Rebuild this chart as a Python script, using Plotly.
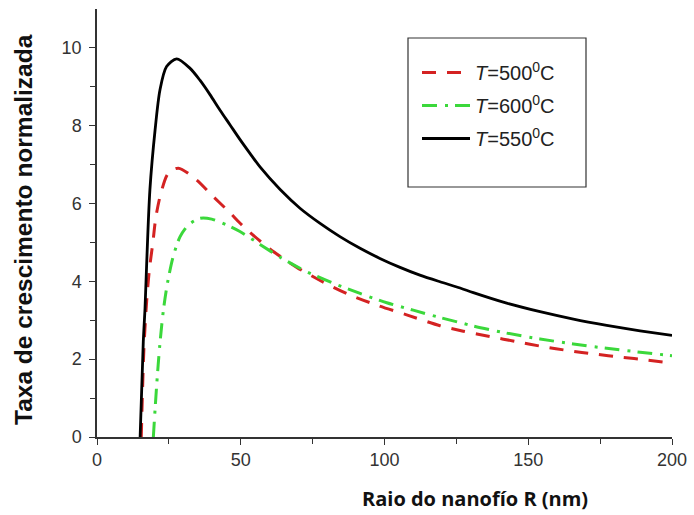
import plotly.graph_objects as go

# Black: T=550 C
x550 = [15.0, 16.1, 16.7, 17.3, 18.4, 20.2, 21.9, 24.2, 27.7, 32.3, 35.8, 39.3, 42.8, 46.3, 49.7, 53.2, 56.7,
        63.7, 70.6, 77.6, 84.5, 91.5, 98.4, 105.4, 112.3, 119.3, 126.3, 130.9, 142.5, 154.1,
        165.7, 177.3, 188.9, 200.0]
y550 = [0.0, 2.45, 3.30, 4.50, 6.35, 7.89, 8.92, 9.52, 9.72, 9.48, 9.17, 8.80, 8.40, 8.02, 7.65, 7.29, 6.94,
        6.36, 5.88, 5.49, 5.15, 4.85, 4.59, 4.36, 4.16, 3.99, 3.83, 3.71, 3.44, 3.22,
        3.03, 2.87, 2.73, 2.61]

# Red: T=500 C
x500 = [15.4, 16.3, 17.3, 18.2, 19.4, 20.5, 22.2, 24.8, 28.3, 34.6, 40.4, 46.3, 49.7, 53.2, 60.0, 69.5,
        78.7, 88.0, 97.3, 107.7, 119.3, 127.4, 136.7, 146.0, 155.3, 164.0, 173.2, 182.5, 191.2, 200.0]
y500 = [0.0, 2.24, 3.52, 4.29, 4.98, 5.66, 6.26, 6.78, 6.91, 6.61, 6.18, 5.76, 5.50, 5.26, 4.84, 4.36,
        3.98, 3.65, 3.39, 3.14, 2.86, 2.72, 2.58, 2.45, 2.32, 2.22, 2.13, 2.05, 1.98, 1.90]

# Green: T=600 C
x600 = [19.6, 20.8, 21.9, 23.1, 24.5, 26.5, 28.9, 31.8, 35.8, 39.9, 45.1, 49.7, 53.2, 56.7, 63.7,
        69.5, 72.9, 82.2, 91.5, 100.8, 110.0, 119.3, 126.3, 130.9, 142.5, 154.1, 165.7, 177.3,
        188.9, 200.0]
y600 = [0.0, 1.38, 2.41, 3.26, 3.95, 4.64, 5.15, 5.45, 5.62, 5.60, 5.45, 5.28, 5.12, 4.95, 4.62,
        4.38, 4.25, 3.95, 3.69, 3.45, 3.26, 3.07, 2.94, 2.85, 2.67, 2.52, 2.39, 2.28,
        2.18, 2.09]

names = ["<i>T</i>=500<sup>0</sup>C", "<i>T</i>=600<sup>0</sup>C", "<i>T</i>=550<sup>0</sup>C"]
x_ticks = [0, 50, 100, 150, 200]
y_ticks = [0, 2, 4, 6, 8, 10]

fig = go.Figure()
fig.add_trace(go.Scatter(x=x500, y=y500, mode="lines", name=names[0], legendgroup="a",
                         line=dict(color="#d42222", width=3, dash="14px,11px", shape="spline", smoothing=0.8)))
fig.add_trace(go.Scatter(x=x600, y=y600, mode="lines", name=names[1], legendgroup="b",
                         line=dict(color="#3bd83b", width=3, dash="15px,8px,3px,7px", shape="spline", smoothing=0.8)))
fig.add_trace(go.Scatter(x=x550, y=y550, mode="lines", name=names[2], legendgroup="c",
                         line=dict(color="black", width=2.8, shape="spline", smoothing=0.8)))

L, R, T, B = 97, 22, 9, 78
W, H = 694, 515
pw, ph = W - L - R, H - T - B

def px2paper_x(px):
    return (px - L) / pw

def py2paper_y(py):
    return (H - B - py) / ph

axis_font = dict(family="Liberation Sans, Arial", size=18, color="#333")
fig.update_layout(
    width=W, height=H, margin=dict(l=L, r=R, t=T, b=B, autoexpand=False),
    paper_bgcolor="white", plot_bgcolor="white",
    showlegend=True,
    legend=dict(x=px2paper_x(417), y=py2paper_y(53), xanchor="left", yanchor="top",
                bgcolor="rgba(0,0,0,0)", borderwidth=0,
                font=dict(family="Liberation Sans, Arial", size=20, color="#222"),
                tracegroupgap=4, itemwidth=48),
    xaxis=dict(range=[0, 200], tickvals=x_ticks, showgrid=False, zeroline=False, automargin=False,
               showline=True, linecolor="#333", linewidth=1.5, ticks="outside", ticklen=6,
               tickcolor="#333", tickwidth=1.2, tickfont=axis_font,
               minor=dict(tickvals=[25, 75, 125, 175], ticks="outside", ticklen=5, tickcolor="#333")),
    yaxis=dict(range=[0, 11], tickvals=y_ticks, showgrid=False, zeroline=False, automargin=False,
               showline=True, linecolor="#333", linewidth=1.5, ticks="outside", ticklen=6,
               tickcolor="#333", tickwidth=1.2, tickfont=axis_font, ticklabelstandoff=4,
               minor=dict(tickvals=[1, 3, 5, 7, 9], ticks="outside", ticklen=5, tickcolor="#333")),
    shapes=[dict(type="rect", xref="paper", yref="paper",
                 x0=px2paper_x(408), x1=px2paper_x(586), y0=py2paper_y(187), y1=py2paper_y(38),
                 line=dict(color="#333", width=1.2), fillcolor="rgba(0,0,0,0)")],
    annotations=[
        dict(text="<b>Raio do nanofío R (nm)</b>", xref="paper", yref="paper",
             x=px2paper_x(475), y=py2paper_y(498), xanchor="center", yanchor="middle",
             showarrow=False, font=dict(family="Open Sans", size=20, color="#111")),
        dict(text="<b>Taxa de crescimento normalizada</b>", xref="paper", yref="paper",
             x=px2paper_x(23), y=py2paper_y(230), xanchor="center", yanchor="middle",
             textangle=-90, showarrow=False, font=dict(family="Liberation Sans, Arial", size=24.5, color="#111")),
    ],
)

fig.write_html("out.html")
